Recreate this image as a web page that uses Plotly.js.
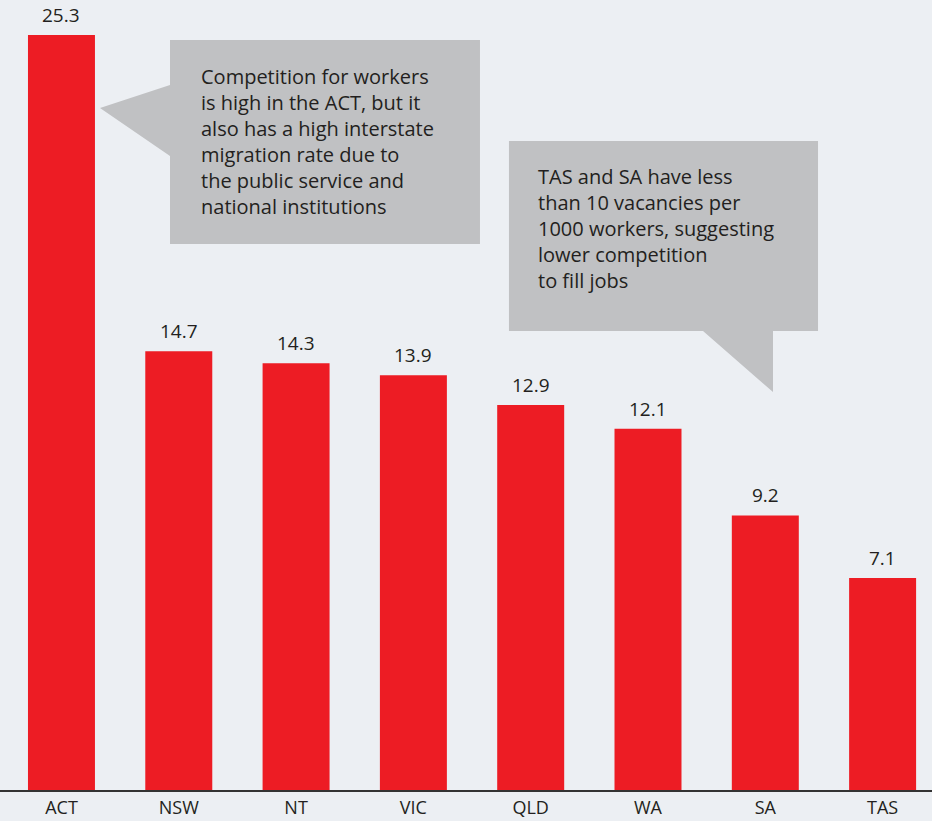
<!DOCTYPE html>
<html>
<head>
<meta charset="utf-8">
<script src="https://cdn.plot.ly/plotly-3.0.1.min.js"></script>
<style>
  html, body { margin: 0; padding: 0; background: #eceff3; }
  #chart { width: 932px; height: 821px; }
</style>
</head>
<body>
<div id="chart"></div>
<script>
// Job vacancies per 1000 workers, by state and territory
const states = ["ACT", "NSW", "NT", "VIC", "QLD", "WA", "SA", "TAS"];
const vacancies = [25.3, 14.7, 14.3, 13.9, 12.9, 12.1, 9.2, 7.1];

const noteACT = "Competition for workers<br>is high in the ACT, but it<br>also has a high interstate<br>migration rate due to<br>the public service and<br>national institutions";
const noteLow = "TAS and SA have less<br>than 10 vacancies per<br>1000 workers, suggesting<br>lower competition<br>to fill jobs";

const textColor = "#231f20";
const fontFamily = "'Open Sans', 'Noto Sans', sans-serif";
const calloutFill = "#c0c1c3";

const bars = {
  type: "bar",
  x: states,
  y: vacancies,
  width: 0.571,
  marker: { color: "#ed1c24", line: { width: 0 } },
  hoverinfo: "skip"
};

// value labels sitting just above each bar
const valueLabels = states.map((s, i) => ({
  x: s,
  y: vacancies[i],
  xref: "x",
  yref: "y",
  text: vacancies[i].toFixed(1),
  showarrow: false,
  yanchor: "bottom",
  yshift: 5,
  font: { family: fontFamily, size: 19, color: textColor }
}));

// speech-bubble callouts (paper coordinates)
function px(x) { return (x / 932).toFixed(4); }
function py(y) { return (1 - y / 790).toFixed(4); }

const bubbleACT = "M " + px(170) + "," + py(40) +
  " L " + px(480) + "," + py(40) +
  " L " + px(480) + "," + py(244) +
  " L " + px(170) + "," + py(244) +
  " L " + px(170) + "," + py(156) +
  " L " + px(100) + "," + py(108) +
  " L " + px(170) + "," + py(85) + " Z";

const bubbleLow = "M " + px(509) + "," + py(141) +
  " L " + px(818) + "," + py(141) +
  " L " + px(818) + "," + py(331) +
  " L " + px(773) + "," + py(331) +
  " L " + px(773) + "," + py(392) +
  " L " + px(703) + "," + py(331) +
  " L " + px(509) + "," + py(331) + " Z";

const layout = {
  width: 932,
  height: 821,
  margin: { l: 0, r: 0, t: 0, b: 31, pad: 0 },
  paper_bgcolor: "#eceff3",
  plot_bgcolor: "#eceff3",
  showlegend: false,
  font: { family: fontFamily, color: textColor },
  xaxis: {
    type: "category",
    range: [-0.524, 7.421],
    showgrid: false,
    zeroline: false,
    showline: true,
    linecolor: "#333333",
    linewidth: 2,
    ticks: "",
    tickfont: { family: fontFamily, size: 18, color: textColor },
    fixedrange: true
  },
  yaxis: {
    range: [0, 26.47],
    visible: false,
    showgrid: false,
    zeroline: false,
    fixedrange: true
  },
  shapes: [
    { type: "path", xref: "paper", yref: "paper", path: bubbleACT,
      fillcolor: calloutFill, line: { width: 0 }, layer: "above" },
    { type: "path", xref: "paper", yref: "paper", path: bubbleLow,
      fillcolor: calloutFill, line: { width: 0 }, layer: "above" }
  ],
  annotations: valueLabels.concat([
    { xref: "paper", yref: "paper", x: 199 / 932, y: 1 - 61 / 790,
      xanchor: "left", yanchor: "top", align: "left", showarrow: false,
      text: noteACT, font: { family: fontFamily, size: 20, color: textColor } },
    { xref: "paper", yref: "paper", x: 536 / 932, y: 1 - 161 / 790,
      xanchor: "left", yanchor: "top", align: "left", showarrow: false,
      text: noteLow, font: { family: fontFamily, size: 20, color: textColor } }
  ])
};

Plotly.newPlot("chart", [bars], layout, { displayModeBar: false, staticPlot: true });
</script>
</body>
</html>
